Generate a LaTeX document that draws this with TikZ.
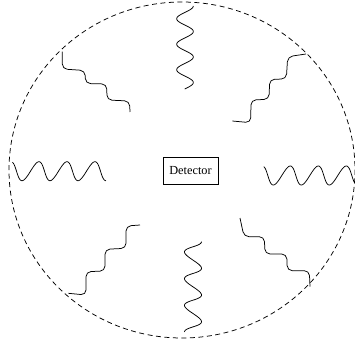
\documentclass[tikz,border=0pt]{standalone}
\usepackage{fontspec}
\setmainfont{Liberation Serif}
\begin{document}
\begin{tikzpicture}[x=1pt,y=-1pt,
  wave/.style={line width=0.75pt, line join=round},
  stair/.style={wave, rounded corners=5pt},
  rim/.style={line width=0.75pt, dash pattern=on 5pt off 3.5pt}]
\useasboundingbox (0,0) rectangle (355,347);
\draw[rim] (182,170) ellipse [x radius=173, y radius=168];
\node[draw, line width=0.6pt, minimum width=55pt, minimum height=27pt, inner sep=0pt,
  font=\fontsize{12.3}{14}\selectfont] (det) at (190.5,170.5) {Detector};
% horizontal waves
\draw[wave] plot[domain=-160:1080, samples=240, variable=\t]
  ({22+0.077778*\t+1.5*(1-cos(\t))}, {171.2+9.5*cos(\t)});
\draw[wave] plot[domain=-160:1035, samples=240, variable=\t]
  ({273.3+0.077778*\t+1.5*(1-cos(\t))}, {175.5+9.5*cos(\t)});
% vertical waves
\draw[wave] plot[domain=0:1172, samples=240, variable=\t]
  ({185+8.3*cos(\t)}, {6+0.070833*\t});
\draw[wave] plot[domain=0:1259, samples=240, variable=\t]
  ({193+8.5*cos(\t)}, {241.6+0.07417*\t-1.5*(1-cos(\t))});
% diagonal waves
\draw[stair] (62.3,51.7) -- (62.3,69) -- (85,70.5) -- (85.5,83.5) -- (106.7,84)
  -- (107,100) -- (129.5,101) -- (130,112);
\draw[stair] (306,54) -- (287.7,56.7) -- (286.3,79) -- (269.7,79.3) -- (269,99.3)
  -- (251,100) -- (250.7,122.7) -- (232.3,121);
\draw[stair] (140,225) -- (126,226) -- (126,248.3) -- (105,249.3) -- (105,271)
  -- (86,271.7) -- (86,295) -- (68.3,293.3);
\draw[stair] (240,218) -- (244,236.7) -- (264.3,236.7) -- (265,254) -- (286.7,254)
  -- (287.3,270.7) -- (309.3,270.7) -- (310,286.7);
\end{tikzpicture}
\end{document}
